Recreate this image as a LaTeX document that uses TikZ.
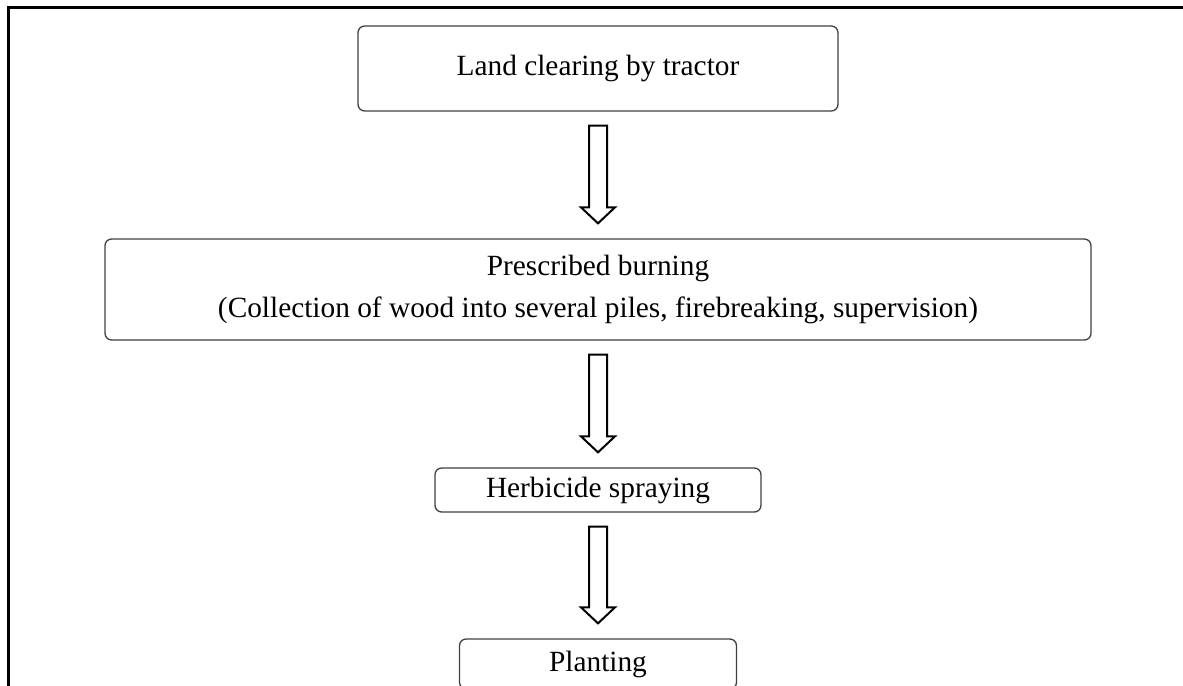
\documentclass[tikz,border=0pt]{standalone}
\usepackage{fontspec}
\setmainfont{Liberation Serif}
\usetikzlibrary{calc}

\tikzset{
  stepbox/.style={draw=black!75, line width=1pt, rounded corners=5pt, align=center,
    inner sep=0pt, font=\fontsize{22}{31.5}\selectfont},
  flowarrow/.style={draw=black, line width=1.5pt, fill=white, line join=miter}
}
% hollow block arrow from the bottom of one box to the top of the next
\newcommand{\hollowarrow}[2]{%
  \draw[flowarrow] ($(#1.south)+(-9,14)$) -- ($(#1.south)+(9,14)$)
    -- ($(#2.north)+(9,-31)$) -- ($(#2.north)+(17,-31)$)
    -- ($(#2.north)+(0,-15)$) -- ($(#2.north)+(-17,-31)$)
    -- ($(#2.north)+(-9,-31)$) -- cycle;}

\begin{document}
\begin{tikzpicture}[x=0.75pt,y=-0.75pt]
  \useasboundingbox (0,0) rectangle (1183,686);
  \clip (0,0) rectangle (1183,686);
  \draw[line width=2.25pt] (8,690) -- (8,7) -- (1190,7);

  \node[stepbox, minimum width=360pt, minimum height=63.75pt] (clearing) at (598,68.5) {Land clearing by tractor};
  \node[stepbox, minimum width=739.5pt, minimum height=75.75pt] (burning) at (598,289.5)
    {Prescribed burning\\(Collection of wood into several piles, firebreaking, supervision)};
  \node[stepbox, minimum width=244.5pt, minimum height=33pt] (spraying) at (598,490) {Herbicide spraying};
  \node[stepbox, minimum width=207.75pt, minimum height=37.5pt] (planting) at (598,664) {Planting};

  \hollowarrow{clearing}{burning}
  \hollowarrow{burning}{spraying}
  \hollowarrow{spraying}{planting}
\end{tikzpicture}
\end{document}
